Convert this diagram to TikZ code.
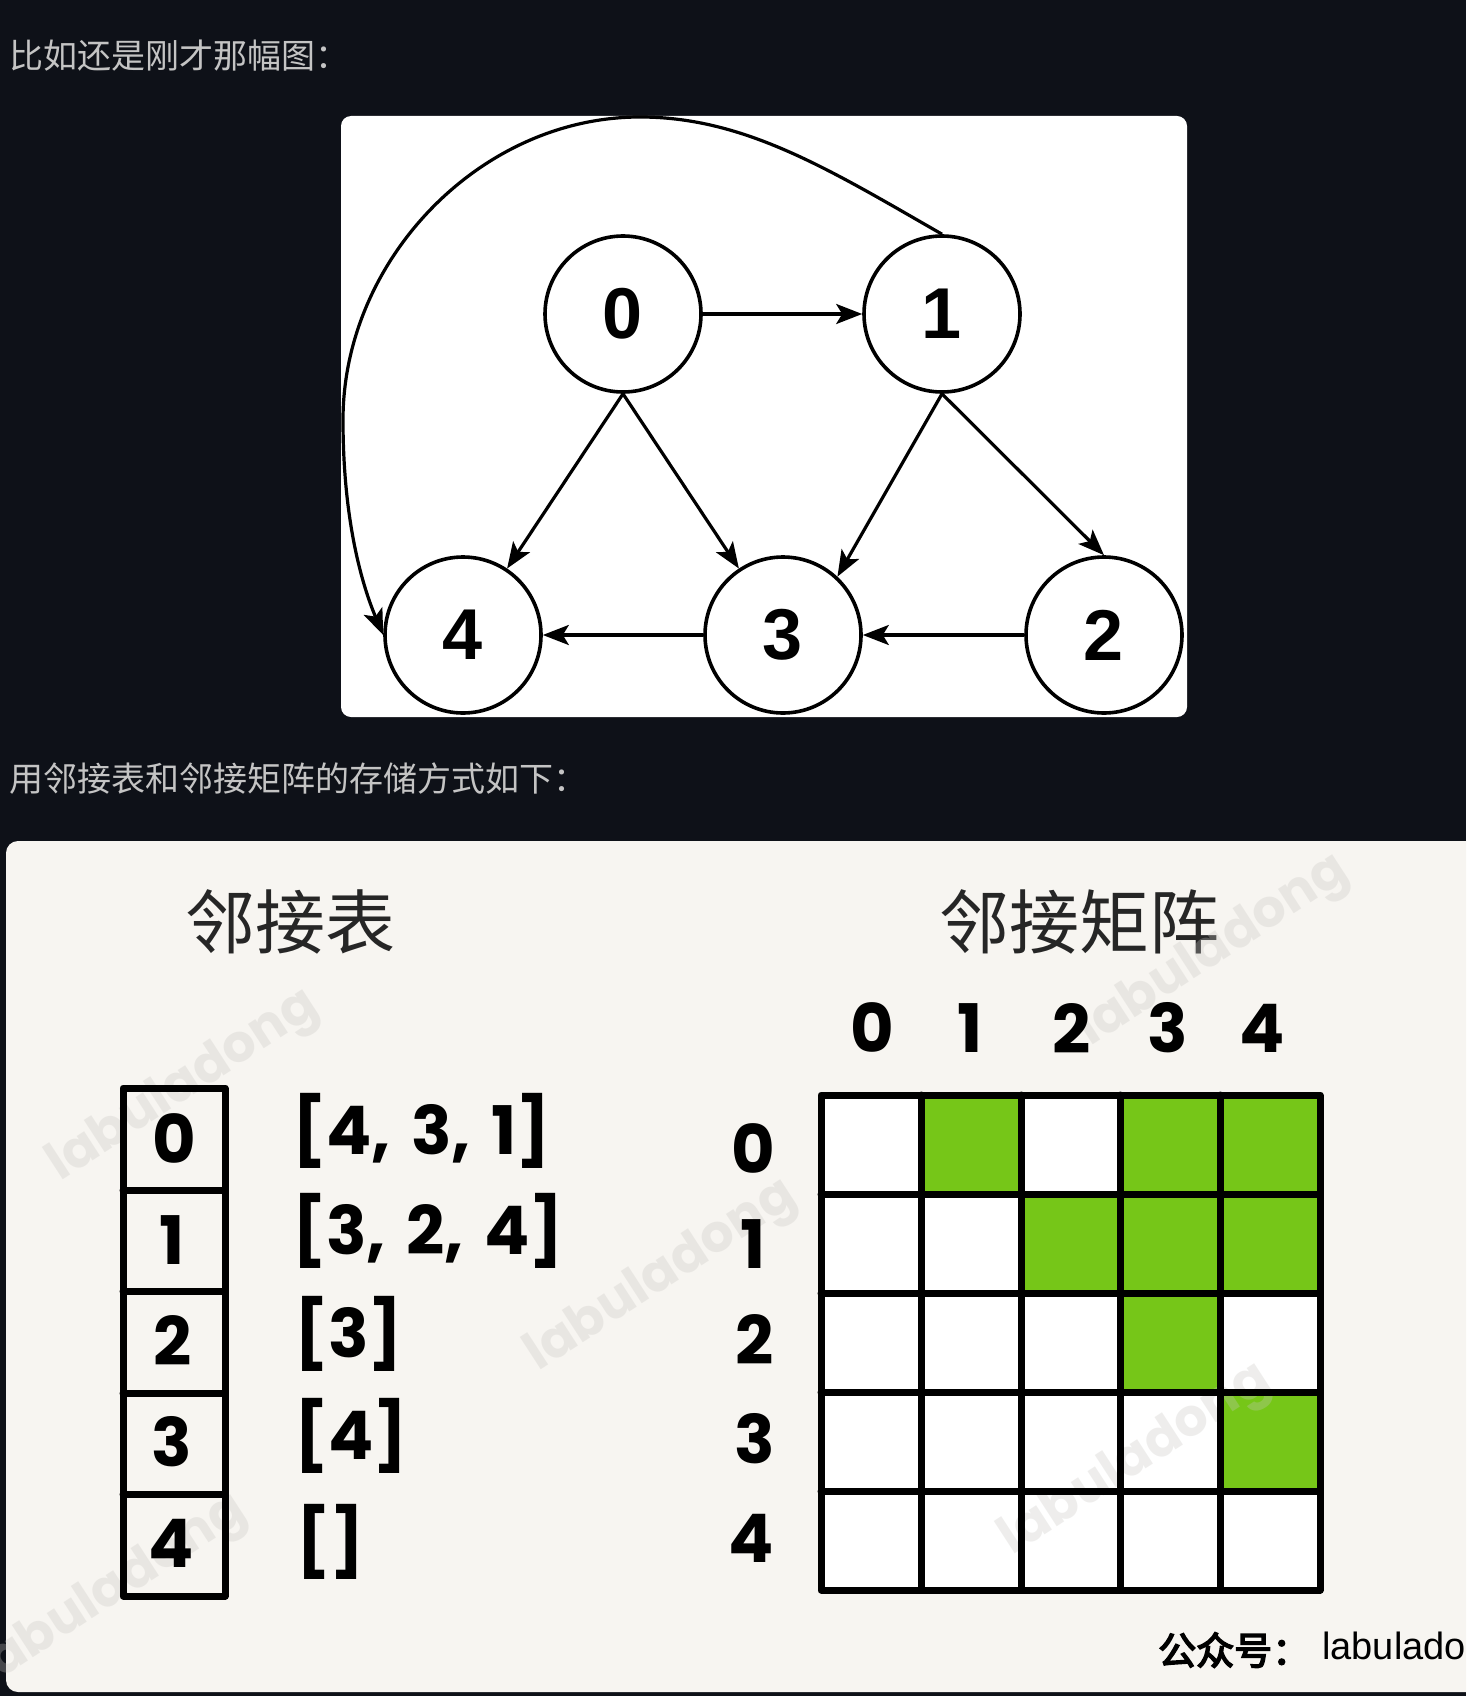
\documentclass[tikz,border=0pt]{standalone}
\usepackage{fontspec}
\setmainfont{Liberation Sans}
\newfontfamily\cjkfont{Noto Sans CJK SC}
\newfontfamily\cjkheavy{Noto Sans CJK SC}[AutoFakeBold=4]
\newfontfamily\numfont{Poppins}
\usetikzlibrary{arrows.meta}
\definecolor{pagebg}{HTML}{0E1118}
\definecolor{notegray}{HTML}{C4C4C4}
\definecolor{cardbg}{HTML}{F7F5F1}
\definecolor{cellgreen}{HTML}{76C618}
\definecolor{markgray}{HTML}{C8C6C2}

\begin{document}
\begin{tikzpicture}[x=1pt,y=-1pt,
  vertex/.style={circle,draw,line width=3.6pt,fill=white,minimum size=156pt,inner sep=0pt,
    font=\fontsize{72}{72}\selectfont\bfseries},
  edge/.style={line width=3.2pt,-{Stealth[length=26pt,width=20pt,inset=6pt]}},
  note/.style={anchor=west,inner sep=0pt,text=notegray,font=\cjkfont\fontsize{34}{34}\selectfont},
  title/.style={inner sep=0pt,text=black!85,font=\cjkfont\fontsize{70}{70}\selectfont},
  digit/.style={inner sep=0pt,font=\numfont\bfseries\fontsize{67}{67}\selectfont},
  wmark/.style={rotate=33,inner sep=0pt,text=markgray,opacity=0.3,
    font=\numfont\bfseries\fontsize{52}{52}\selectfont},
  gridline/.style={line width=7pt,line cap=round,line join=round}]
\useasboundingbox (0,0) rectangle (1466,1696);
\clip (0,0) rectangle (1466,1696);
\fill[pagebg] (0,0) rectangle (1466,1696);

% upper part: the graph
\node[note] (say1) at (9,56) {比如还是刚才那幅图：};
\fill[white,rounded corners=10pt] (341,116) rectangle (1187,717);
\node[vertex] (v0) at (623,314) {0};
\node[vertex] (v1) at (942,314) {1};
\node[vertex] (v4) at (463,635) {4};
\node[vertex] (v3) at (783,635) {3};
\node[vertex] (v2) at (1104,635) {2};
\draw[edge] (v0.east) -- (v1.west);
\draw[edge] (v0.south) -- (v4);
\draw[edge] (v0.south) -- (v3);
\draw[edge] (v1.south) -- (v3.47);
\draw[edge] (v1.south) -- (v2.north);
\draw[edge] (v2.west) -- (v3.east);
\draw[edge] (v3.west) -- (v4.east);
\draw[edge] (v1.north) .. controls (830,170) and (745,117) .. (640,117)
  .. controls (480,117) and (343,260) .. (343,420)
  .. controls (343,520) and (362,585) .. (v4.west);

% lower part: list and matrix
\node[note] (say2) at (9,779) {用邻接表和邻接矩阵的存储方式如下：};
\fill[cardbg,rounded corners=12pt] (6,841) rectangle (1500,1692);
\node[title] (tlist) at (290,922) {邻接表};
\node[title] (tmat) at (1079,922) {邻接矩阵};

\fill[white] (821,1095) rectangle (1320,1590);
\fill[cellgreen] (921,1095) rectangle (1021,1194);
\fill[cellgreen] (1120,1095) rectangle (1220,1194);
\fill[cellgreen] (1220,1095) rectangle (1320,1194);
\fill[cellgreen] (1021,1194) rectangle (1120,1293);
\fill[cellgreen] (1120,1194) rectangle (1220,1293);
\fill[cellgreen] (1220,1194) rectangle (1320,1293);
\fill[cellgreen] (1120,1293) rectangle (1220,1392);
\fill[cellgreen] (1220,1392) rectangle (1320,1491);

% watermarks
\node[wmark] (wm1) at (184,1087) {labuladong};
\node[wmark] (wm2) at (662,1277) {labuladong};
\node[wmark] (wm3) at (1214,952) {labuladong};
\node[wmark] (wm4) at (1136,1461) {labuladong};
\node[wmark] (wm5) at (112,1592) {labuladong};

\draw[gridline] (921,1095) -- (921,1590);
\draw[gridline] (1021,1095) -- (1021,1590);
\draw[gridline] (1120,1095) -- (1120,1590);
\draw[gridline] (1220,1095) -- (1220,1590);
\draw[gridline] (821,1194) -- (1320,1194);
\draw[gridline] (821,1293) -- (1320,1293);
\draw[gridline] (821,1392) -- (1320,1392);
\draw[gridline] (821,1491) -- (1320,1491);
\draw[gridline] (821,1095) rectangle (1320,1590);

\node[digit] (c0) at (872,1028) {0};
\node[digit] (c1) at (970,1028) {1};
\node[digit] (c2) at (1072,1028) {2};
\node[digit] (c3) at (1168,1028) {3};
\node[digit] (c4) at (1262,1028) {4};
\node[digit] (r0) at (753,1149) {0};
\node[digit] (r1) at (753,1244) {1};
\node[digit] (r2) at (755,1339) {2};
\node[digit] (r3) at (755,1439) {3};
\node[digit] (r4) at (751,1538) {4};

\draw[gridline] (123,1190) -- (225,1190);
\draw[gridline] (123,1291) -- (225,1291);
\draw[gridline] (123,1393) -- (225,1393);
\draw[gridline] (123,1494) -- (225,1494);
\draw[gridline] (123,1088) rectangle (225,1596);
\node[digit] (k0) at (174,1139) {0};
\node[digit] (k1) at (172,1240) {1};
\node[digit] (k2) at (173,1340) {2};
\node[digit] (k3) at (172,1442) {3};
\node[digit] (k4) at (171,1543) {4};
\node[digit,anchor=west] (l0) at (292,1131) {[4,\hspace{6pt} 3,\hspace{6pt} 1]};
\node[digit,anchor=west] (l1) at (292,1231) {[3,\hspace{6pt} 2,\hspace{6pt} 4]};
\node[digit,anchor=west] (l2) at (294,1334) {[3]};
\node[digit,anchor=west] (l3) at (294,1436) {[4]};
\node[digit,anchor=west] (l4) at (296,1542) {[]};

\node[anchor=west,inner sep=0pt,font=\cjkheavy\bfseries\fontsize{38}{38}\selectfont] (pub) at (1158,1650) {公众号：};
\node[anchor=west,inner sep=0pt,font=\fontsize{38}{38}\selectfont] (acct) at (1322,1650) {labuladong};
\end{tikzpicture}
\end{document}
